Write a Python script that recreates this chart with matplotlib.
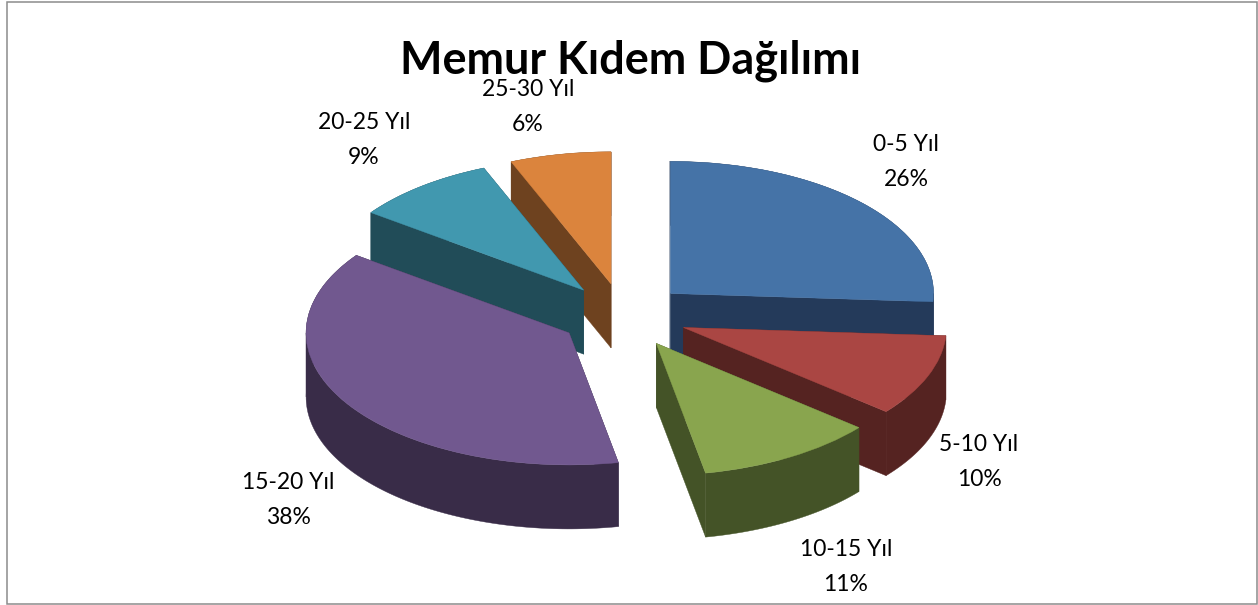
import numpy as np
import matplotlib
matplotlib.use('Agg')
import matplotlib.pyplot as plt
from matplotlib.patches import Polygon, Rectangle

W, H = 1258, 605

categories = ['0-5 Yıl', '5-10 Yıl', '10-15 Yıl', '15-20 Yıl', '20-25 Yıl', '25-30 Yıl']
values = [26, 10, 11, 38, 8.8, 6.2]
top_colors = ['#4573A7', '#AA4643', '#89A54E', '#71588F', '#4198AF', '#DB843D']
wall_colors = ['#243A5A', '#552321', '#445327', '#392C48', '#214C58', '#6E421F']

# pixel spots of the labels, same order as categories
label_x = [906, 979, 846, 288, 364, 528]
label_y = [162, 462, 567, 500, 140, 107]
# back to front
draw_order = [5, 4, 3, 0, 1, 2]

# pie centre and radii in pixels
cx, cy, rx, ry = 623.5, 315.6, 263, 132
depth = 64 / ry

plt.rcParams['font.family'] = ['Lato', 'DejaVu Sans']
fig = plt.figure(figsize=(W / 100, H / 100), dpi=100)
ax = fig.add_axes([0, 0, 1, 1])

wedges, _ = ax.pie(values, explode=[0.245] * len(values), startangle=90,
                   counterclock=False, colors=top_colors)
ax.set_aspect('auto')
ax.set_xlim(-cx / rx, (W - cx) / rx)
ax.set_ylim((cy - H) / ry, cy / ry)


def wall(fx, fy, i, z):
    ax.add_patch(Polygon(np.c_[fx, fy], closed=True, fc=wall_colors[i],
                         ec=wall_colors[i], lw=0.3, zorder=z))


for z, i in enumerate(draw_order):
    w = wedges[i]
    x0, y0 = w.center
    # cut faces
    for a in (w.theta1, w.theta2):
        ex = x0 + w.r * np.cos(np.radians(a))
        ey = y0 + w.r * np.sin(np.radians(a))
        wall([x0, ex, ex, x0], [y0, ey, ey - depth, y0 - depth], i, 2 * z + 1)
    # rim, split at the far left and right of the ellipse so the sides stay filled
    stops = [a for a in np.arange(-720, 721, 180) if w.theta1 < a < w.theta2]
    edges = [w.theta1] + stops + [w.theta2]
    for a, b in zip(edges[:-1], edges[1:]):
        t = np.radians(np.linspace(a, b, 100))
        xs = x0 + w.r * np.cos(t)
        ys = y0 + w.r * np.sin(t)
        wall(np.r_[xs, xs[::-1]], np.r_[ys, ys[::-1] - depth], i, 2 * z + 1)
    w.set_zorder(2 * z + 2)
    w.set_edgecolor(top_colors[i])
    w.set_linewidth(0.3)

for i in range(len(values)):
    fig.text(label_x[i] / W, 1 - label_y[i] / H, f'{categories[i]}\n{values[i]:.0f}%',
             ha='center', va='center', fontsize=16.5, linespacing=1.78, color='black')

fig.text(631 / W, 1 - 61 / H, 'Memur Kıdem Dağılımı', ha='center', va='center',
         fontsize=32.4, fontweight='bold', color='black')

fig.add_artist(Rectangle((7 / W, 1 / H), 1250 / W, 602 / H, transform=fig.transFigure,
                         fill=False, ec='#8C8C8C', lw=1.1))

fig.savefig('out.png', dpi=100)
